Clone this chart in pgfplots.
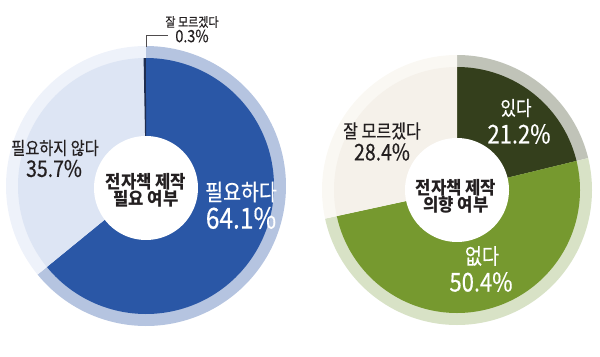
\documentclass[border=0pt]{standalone}
\usepackage{pgfplots}
\pgfplotsset{compat=1.18}
\usepackage{fontspec}
\setmainfont{Noto Sans CJK KR}[FakeStretch=0.85, FakeBold=0.4]
\newfontfamily\krw{Noto Sans CJK KR}[FakeStretch=0.93]
\definecolor{blueDark}{HTML}{2A57A6}
\definecolor{blueLight}{HTML}{DDE5F4}
\definecolor{blueRing}{HTML}{B5C4E0}
\definecolor{blueRingPale}{HTML}{EEF2FA}
\definecolor{navy}{HTML}{1F2D4F}
\definecolor{greenDark}{HTML}{343F1C}
\definecolor{greenMid}{HTML}{76992F}
\definecolor{beige}{HTML}{F5F1EA}
\definecolor{ringGrey}{HTML}{C0C3B8}
\definecolor{ringGreen}{HTML}{D8E2C6}
\definecolor{ringPale}{HTML}{FAF8F3}
\definecolor{txt}{HTML}{231F20}
% slice: cx, cy, r, start angle, end angle (clockwise from 12 o'clock), colour
\newcommand{\pieslice}[6]{%
  \addplot[fill=#6, draw=none, domain={#4}:{#5}, samples=120, variable=\t]
    ({#1+#3*sin(\t)}, {#2-#3*cos(\t)}) -- (axis cs:#1,#2) -- cycle;}
\begin{document}
\begin{tikzpicture}
\begin{axis}[
  width=600bp, height=356bp, scale only axis,
  xmin=0, xmax=600, ymin=0, ymax=356, y dir=reverse,
  hide axis, clip=false,
  every node/.append style={inner sep=0pt},
]
% ---------- left donut: 필요하다 64.1, 필요하지 않다 35.7, 잘 모르겠다 0.3
\pieslice{146}{186}{140}{0}{64.1*3.6}{blueRing}
\pieslice{146}{186}{140}{64.1*3.6}{360}{blueRingPale}
\pieslice{146}{186}{128}{0}{64.1*3.6}{blueDark}
\pieslice{146}{186}{128}{64.1*3.6}{(64.1+35.7)*3.6}{blueLight}
\pieslice{146}{186}{128}{(100-0.3)*3.6}{360}{navy}
\pieslice{146}{188}{52}{0}{360}{white}
\addplot[draw=txt!80, line width=0.8bp] coordinates {(146,47) (146,35) (168,35)};
% ---------- right donut: 있다 21.2, 없다 50.4, 잘 모르겠다 28.4
\pieslice{457}{190}{135}{0}{21.2*3.6}{ringGrey}
\pieslice{457}{190}{135}{21.2*3.6}{(21.2+50.4)*3.6}{ringGreen}
\pieslice{457}{190}{135}{(21.2+50.4)*3.6}{360}{ringPale}
\pieslice{457}{190}{123}{0}{21.2*3.6}{greenDark}
\pieslice{457}{190}{123}{21.2*3.6}{(21.2+50.4)*3.6}{greenMid}
\pieslice{457}{190}{123}{(21.2+50.4)*3.6}{360}{beige}
\pieslice{457}{190}{52}{0}{360}{white}
% ---------- labels
\node[txt, font=\fontsize{13}{14}\selectfont] at (axis cs:192,22) {잘 모르겠다};
\node[txt, font=\fontsize{17}{18}\selectfont] at (axis cs:192,36) {0.3\%};
\node[txt, font=\fontsize{18}{20}\selectfont] at (axis cs:55,148) {필요하지 않다};
\node[txt, font=\fontsize{23}{24}\selectfont] at (axis cs:54,168.5) {35.7\%};
\node[white, font=\fontsize{23}{24}\selectfont] at (axis cs:241,192) {필요하다};
\node[white, font=\fontsize{29}{30}\selectfont] at (axis cs:241,218) {64.1\%};
\node[txt, font=\krw\bfseries\fontsize{18}{17}\selectfont, align=center] at (axis cs:146,190.5) {전자책 제작\\필요 여부};
\node[white, font=\fontsize{20}{22}\selectfont] at (axis cs:516,108) {있다};
\node[white, font=\fontsize{26}{27}\selectfont] at (axis cs:519,134) {21.2\%};
\node[txt, font=\fontsize{19}{20}\selectfont] at (axis cs:382,131) {잘 모르겠다};
\node[txt, font=\fontsize{23}{24}\selectfont] at (axis cs:382,152) {28.4\%};
\node[white, font=\fontsize{22}{23}\selectfont] at (axis cs:482,256) {없다};
\node[white, font=\fontsize{26}{27}\selectfont] at (axis cs:481,282) {50.4\%};
\node[txt, font=\krw\bfseries\fontsize{18}{17}\selectfont, align=center] at (axis cs:456,196) {전자책 제작\\의향 여부};
\end{axis}
\pgfresetboundingbox
\path (current axis.south west) rectangle (current axis.north east);
\end{tikzpicture}
\end{document}
